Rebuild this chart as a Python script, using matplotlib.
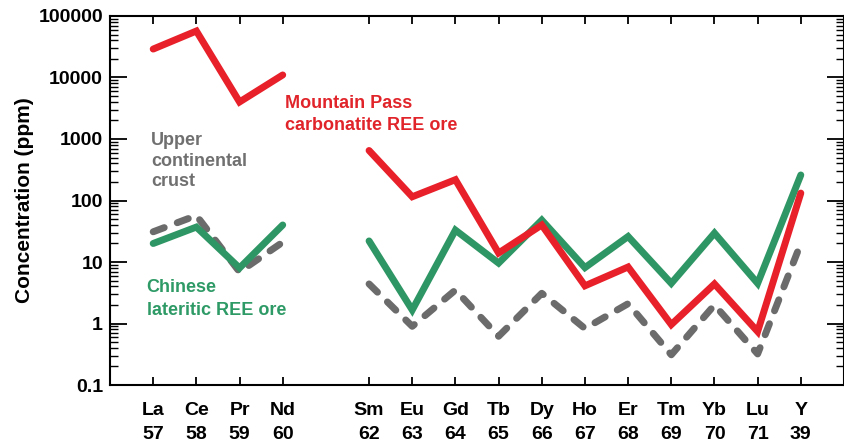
import matplotlib
matplotlib.use("Agg")
import matplotlib.pyplot as plt
from matplotlib.ticker import LogLocator, FixedLocator, NullFormatter

plt.rcParams['font.family'] = ['Liberation Sans', 'DejaVu Sans']

# element order along x; gap between Nd and Sm (no Pm)
elements = ["La", "Ce", "Pr", "Nd", "Sm", "Eu", "Gd", "Tb", "Dy", "Ho", "Er", "Tm", "Yb", "Lu", "Y"]
atomic_numbers = [57, 58, 59, 60, 62, 63, 64, 65, 66, 67, 68, 69, 70, 71, 39]
positions = [0, 1, 2, 3, 5, 6, 7, 8, 9, 10, 11, 12, 13, 14, 15]

mountain_pass = [29000, 57000, 4000, 11000, 650, 115, 218, 14, 40, 4.1, 8.3, 0.96, 4.4, 0.74, 132]
chinese_laterite = [20, 37, 8, 40, 22, 1.66, 33, 9.6, 48, 8.1, 26, 4.5, 29.5, 4.5, 260]
upper_crust = [31, 57, 6.9, 21, 4.4, 0.9, 3.5, 0.62, 3.1, 0.83, 2.1, 0.31, 2.0, 0.32, 20]

RED = "#e8202a"
GREEN = "#2e9664"
GRAY = "#6b6b6b"


def split(vals):
    # the light REE block and the heavy REE block are drawn as separate lines
    return (positions[:4], vals[:4]), (positions[4:], vals[4:])


fig = plt.figure(figsize=(8.45, 4.43), dpi=100)
ax = fig.add_axes([0.1302, 0.1309, 0.8686, 0.833])

for vals, color, dashed in [(upper_crust, GRAY, True),
                            (chinese_laterite, GREEN, False),
                            (mountain_pass, RED, False)]:
    for xs, ys in split(vals):
        if dashed:
            ax.plot(xs, ys, color=color, lw=5, dashes=(1.7, 2.0),
                    dash_capstyle="round", dash_joinstyle="round")
        else:
            ax.plot(xs, ys, color=color, lw=5, solid_capstyle="round",
                    solid_joinstyle="miter")

ax.set_yscale("log")
ax.set_ylim(0.1, 100000)
ax.set_xlim(-1, 16)

ax.yaxis.set_minor_locator(LogLocator(base=10, subs=range(2, 10), numticks=20))
ax.yaxis.set_minor_formatter(NullFormatter())
ax.set_yticks([0.1, 1, 10, 100, 1000, 10000, 100000])
ax.set_yticklabels(["0.1", "1", "10", "100", "1000", "10000", "100000"])

ax.xaxis.set_major_locator(FixedLocator(positions))
ax.set_xticklabels([f"{e}\n{n}" for e, n in zip(elements, atomic_numbers)],
                   linespacing=1.6)

for sp in ax.spines.values():
    sp.set_linewidth(1.5)

ax.tick_params(axis="x", which="major", direction="in", length=6, width=1.3,
               top=True, bottom=True, pad=12, labelsize=14)
ax.tick_params(axis="y", which="major", direction="in", length=12, width=1.3,
               left=True, right=True, pad=5, labelsize=14)
ax.tick_params(axis="y", which="minor", direction="in", length=6, width=1.0,
               left=True, right=True)
for lab in ax.get_xticklabels() + ax.get_yticklabels():
    lab.set_fontweight("bold")

ax.set_ylabel("Concentration (ppm)", fontsize=15, fontweight="bold", labelpad=3)

ax.text(0.238, 0.733, "Mountain Pass\ncarbonatite REE ore", transform=ax.transAxes,
        color="#e0242a", fontsize=13, fontweight="bold", ha="left", va="center",
        linespacing=1.45)
ax.text(0.056, 0.607, "Upper\ncontinental\ncrust", transform=ax.transAxes,
        color="#707070", fontsize=13, fontweight="bold", ha="left", va="center",
        linespacing=1.3)
ax.text(0.050, 0.233, "Chinese\nlateritic REE ore", transform=ax.transAxes,
        color="#2e9a66", fontsize=13, fontweight="bold", ha="left", va="center",
        linespacing=1.4)

fig.savefig("out.png", dpi=100)
plt.close(fig)
